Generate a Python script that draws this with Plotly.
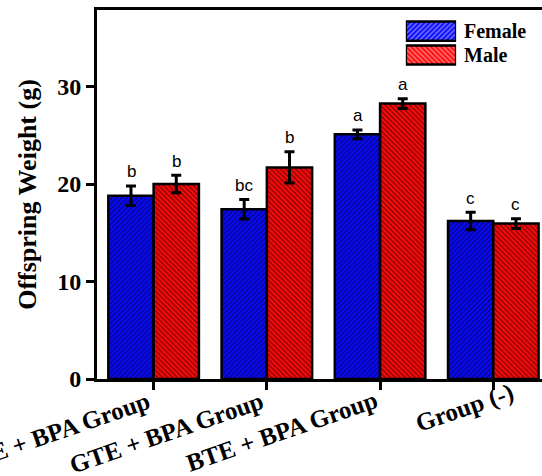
import math
import plotly.graph_objects as go

categories = ["WTE + BPA Group", "GTE + BPA Group", "BTE + BPA Group", "Group (-)"]
female = [18.8, 17.4, 25.1, 16.2]
female_err = [1.0, 1.0, 0.45, 0.9]
male = [20.0, 21.7, 28.25, 15.95]
male_err = [0.9, 1.6, 0.5, 0.5]
female_letters = ["b", "bc", "a", "c"]
male_letters = ["b", "b", "a", "c"]
series_names = ["Female", "Male"]

# styling: extra slide (px) of each rotated category label along its baseline
label_slide = [0, 0, 0, 25]

serif = "Liberation Serif, Times New Roman, serif"
blue = "#0a0aff"
red = "#ff0a0a"
colors = [blue, red]
shapes = ["/", "\\"]
angle = 19


def marker(k):
    return dict(color=colors[k], line=dict(color="black", width=2.5),
                pattern=dict(shape=shapes[k], fgcolor="black", size=3.5, solidity=0.38))


fig = go.Figure()
fig.add_trace(go.Bar(
    x=categories, y=female, name=series_names[0], marker=marker(0), showlegend=False,
    error_y=dict(type="data", array=female_err, color="black", thickness=3, width=5),
))
fig.add_trace(go.Bar(
    x=categories, y=male, name=series_names[1], marker=marker(1), showlegend=False,
    error_y=dict(type="data", array=male_err, color="black", thickness=3, width=5),
))

# legend keys drawn as patterned bars on a small overlay axis
fig.add_trace(go.Bar(
    y=series_names, x=[1, 1], orientation="h",
    marker=dict(color=colors, line=dict(color="black", width=2.5),
                pattern=dict(shape=shapes, fgcolor="black", size=3.5, solidity=0.38)),
    xaxis="x2", yaxis="y2", showlegend=False, hoverinfo="skip", width=0.8,
    offsetgroup="legend",
))
for name in series_names:
    fig.add_annotation(x=1, xref="x2 domain", xshift=6, y=name, yref="y2",
                       xanchor="left", yanchor="middle", text=name, showarrow=False,
                       font=dict(family=serif, size=20, color="black", weight="bold"))

# letters above error bars
for i, c in enumerate(categories):
    fig.add_annotation(x=i, xshift=-22.5, y=female[i] + female_err[i], yshift=14,
                       text=female_letters[i], showarrow=False, xref="x", yref="y",
                       font=dict(family="Liberation Sans, Arial", size=17, color="black"))
    fig.add_annotation(x=i, xshift=22.5, y=male[i] + male_err[i], yshift=14,
                       text=male_letters[i], showarrow=False, xref="x", yref="y",
                       font=dict(family="Liberation Sans, Arial", size=17, color="black"))

# rotated category labels
ca, sa = math.cos(math.radians(angle)), math.sin(math.radians(angle))
for i, c in enumerate(categories):
    s = label_slide[i]
    fig.add_annotation(x=i, y=0, xref="x", yref="y", text=c, showarrow=False,
                       textangle=-angle, xanchor="right", yanchor="top",
                       xshift=3 + s * ca, yshift=-5 + s * sa,
                       font=dict(family=serif, size=25, color="black", weight="bold"))

fig.update_layout(
    width=542, height=476,
    margin=dict(l=97, r=0, t=10, b=97, autoexpand=False),
    paper_bgcolor="white", plot_bgcolor="white",
    bargap=0.2, bargroupgap=0, barmode="group",
    font=dict(family=serif, color="black"),
    showlegend=False,
    xaxis=dict(type="category", range=[-0.5, 3.43], showline=True, linecolor="black",
               linewidth=3, mirror=True, ticks="outside", ticklen=8, tickwidth=3,
               tickcolor="black", automargin=False, showticklabels=False,
               showgrid=False),
    yaxis=dict(range=[0, 37.85], showline=True, linecolor="black", linewidth=3,
               ticks="outside", ticklen=8, tickwidth=3, tickcolor="black",
               tickvals=[0, 10, 20, 30], automargin=False,
               tickfont=dict(family=serif, size=24, color="black", weight="bold"),
               title=dict(text="Offspring Weight (g)", standoff=14,
                          font=dict(family=serif, size=26, color="black", weight="bold")),
               showgrid=False, zeroline=False),
    xaxis2=dict(domain=[0.694, 0.807], anchor="y2", range=[0, 1], visible=False,
                fixedrange=True, automargin=False),
    yaxis2=dict(domain=[0.846, 0.975], anchor="x2",
                categoryorder="array", categoryarray=series_names[::-1],
                range=[-0.5, 1.5], automargin=False, visible=False,
                fixedrange=True),
)

fig.write_html("out.html")
